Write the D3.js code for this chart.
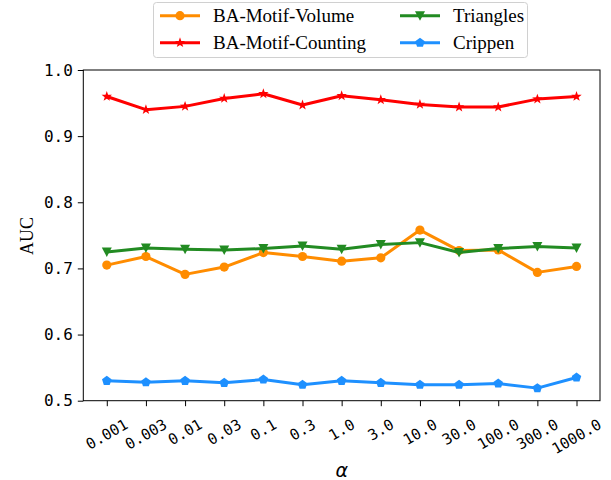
<!DOCTYPE html>
<html><head><meta charset="utf-8">
<script src="https://cdn.jsdelivr.net/npm/d3@7"></script>
<style>body{margin:0;background:#fff}svg{display:block}</style>
</head><body>
<svg id="c" width="611" height="480"></svg>
<script>
const alphas = ["0.001","0.003","0.01","0.03","0.1","0.3","1.0","3.0","10.0","30.0","100.0","300.0","1000.0"];
const volume   = [0.705,0.718,0.691,0.702,0.724,0.718,0.711,0.716,0.758,0.727,0.728,0.694,0.703];
const counting = [0.960,0.940,0.945,0.957,0.964,0.947,0.961,0.955,0.948,0.944,0.944,0.956,0.960];
const triangles= [0.725,0.731,0.729,0.728,0.730,0.734,0.729,0.736,0.739,0.724,0.730,0.733,0.731];
const crippen  = [0.530,0.528,0.530,0.527,0.532,0.524,0.530,0.527,0.524,0.524,0.526,0.519,0.535];
const yTicks = [0.5,0.6,0.7,0.8,0.9,1.0];
const seriesNames = ["BA-Motif-Volume","BA-Motif-Counting","Triangles","Crippen"];

const series = [
  {name: seriesNames[0], values: volume, color:"#ff8c00", marker:"circle"},
  {name: seriesNames[1], values: counting, color:"#ff0000", marker:"star"},
  {name: seriesNames[2], values: triangles, color:"#228b22", marker:"tri"},
  {name: seriesNames[3], values: crippen, color:"#1e90ff", marker:"pent"}
];

const svg = d3.select("#c");
const L=83.3, R=600, T=70, B=400.7;
const step = (R-L)/((alphas.length-1)*1.1);
const x = d3.scalePoint().domain(alphas).range([L+0.6*step, R-0.6*step]);
const y = d3.scaleLinear().domain([0.5,1.0]).range([B,T]);
const monoFont = "'DejaVu Sans Mono', 'Liberation Mono', monospace";

function markerPath(type, r){
  if(type==="circle"){ return d3.symbol(d3.symbolCircle, Math.PI*r*r)(); }
  const pts=[];
  if(type==="star"){
    for(let i=0;i<10;i++){const a=-Math.PI/2+i*Math.PI/5; const rr=i%2?r*0.42:r*1.05; pts.push([rr*Math.cos(a),rr*Math.sin(a)]);}
  } else if(type==="tri"){
    pts.push([-r,-r*0.9],[r,-r*0.9],[0,r*1.0]);
  } else if(type==="pent"){
    for(let i=0;i<5;i++){const a=-Math.PI/2+i*2*Math.PI/5; pts.push([r*Math.cos(a),r*Math.sin(a)]);}
  }
  return "M"+pts.map(p=>p.join(",")).join("L")+"Z";
}
const mSize = {circle:4.6, star:5.2, tri:5.0, pent:5.0};

// ticks
const yAxis = d3.axisLeft(y).tickValues(yTicks).tickFormat(d3.format(".1f")).tickSize(5.5).tickPadding(5);
const gy = svg.append("g").attr("transform",`translate(${L},0)`).call(yAxis);
gy.select(".domain").remove();
gy.selectAll("text").attr("font-family",monoFont).attr("font-size",16).attr("fill","#000");
gy.selectAll("line").attr("stroke","#000");

const xAxis = d3.axisBottom(x).tickSize(5.5).tickFormat("");
const gx = svg.append("g").attr("transform",`translate(0,${B})`).call(xAxis);
gx.select(".domain").remove();
gx.selectAll("line").attr("stroke","#000");

// rotated x tick labels
const fsx = 15, topY = 417;
alphas.forEach(a=>{
  const t = svg.append("text").text(a)
    .attr("font-family",monoFont)
    .attr("font-size",fsx).attr("text-anchor","middle").attr("dy","0.35em");
  const len = t.node().getComputedTextLength();
  const cy = topY + (len*0.5 + fsx*0.9*0.866)/2;
  t.attr("transform",`translate(${x(a)},${cy}) rotate(-30)`);
});

// frame
svg.append("rect").attr("x",L).attr("y",T).attr("width",R-L).attr("height",B-T)
  .attr("fill","none").attr("stroke","#000").attr("stroke-width",1);

// lines
const line = d3.line().x((d,i)=>x(alphas[i])).y(d=>y(d));
series.forEach(s=>{
  const g = svg.append("g");
  g.append("path").datum(s.values).attr("d",line).attr("fill","none")
    .attr("stroke",s.color).attr("stroke-width",3).attr("stroke-linejoin","round");
  g.selectAll("path.m").data(s.values).join("path").attr("class","m")
    .attr("d",markerPath(s.marker,mSize[s.marker]))
    .attr("transform",(d,i)=>`translate(${x(alphas[i])},${y(d)})`)
    .attr("fill",s.color);
});

// axis labels
svg.append("text").text("AUC").attr("font-family","'Liberation Serif', 'Times New Roman', serif")
  .attr("font-size",18).attr("text-anchor","middle")
  .attr("transform","translate(33,236) rotate(-90)");
svg.append("text").text("α").attr("font-family","'DejaVu Sans', sans-serif").attr("font-style","italic")
  .attr("font-size",19).attr("text-anchor","middle").attr("x",(L+R)/2).attr("y",477);

// legend
const lg = svg.append("g");
lg.append("rect").attr("x",153.5).attr("y",2.5).attr("width",374).attr("height",55).attr("rx",3)
  .attr("fill","#fff").attr("fill-opacity",0.8).attr("stroke","#d0d0d0");
const pos = [[160,15.7],[160,42.7],[400,15.7],[400,42.7]];
series.forEach((s,i)=>{
  const [lx,ly]=pos[i];
  lg.append("line").attr("x1",lx).attr("x2",lx+40).attr("y1",ly).attr("y2",ly)
    .attr("stroke",s.color).attr("stroke-width",3);
  lg.append("path").attr("d",markerPath(s.marker,mSize[s.marker])).attr("fill",s.color)
    .attr("transform",`translate(${lx+20},${ly})`);
  lg.append("text").text(s.name).attr("x",lx+53).attr("y",ly).attr("dy","0.35em")
    .attr("font-family","'Liberation Serif', 'Times New Roman', serif").attr("font-size",19);
});
</script>
</body></html>
